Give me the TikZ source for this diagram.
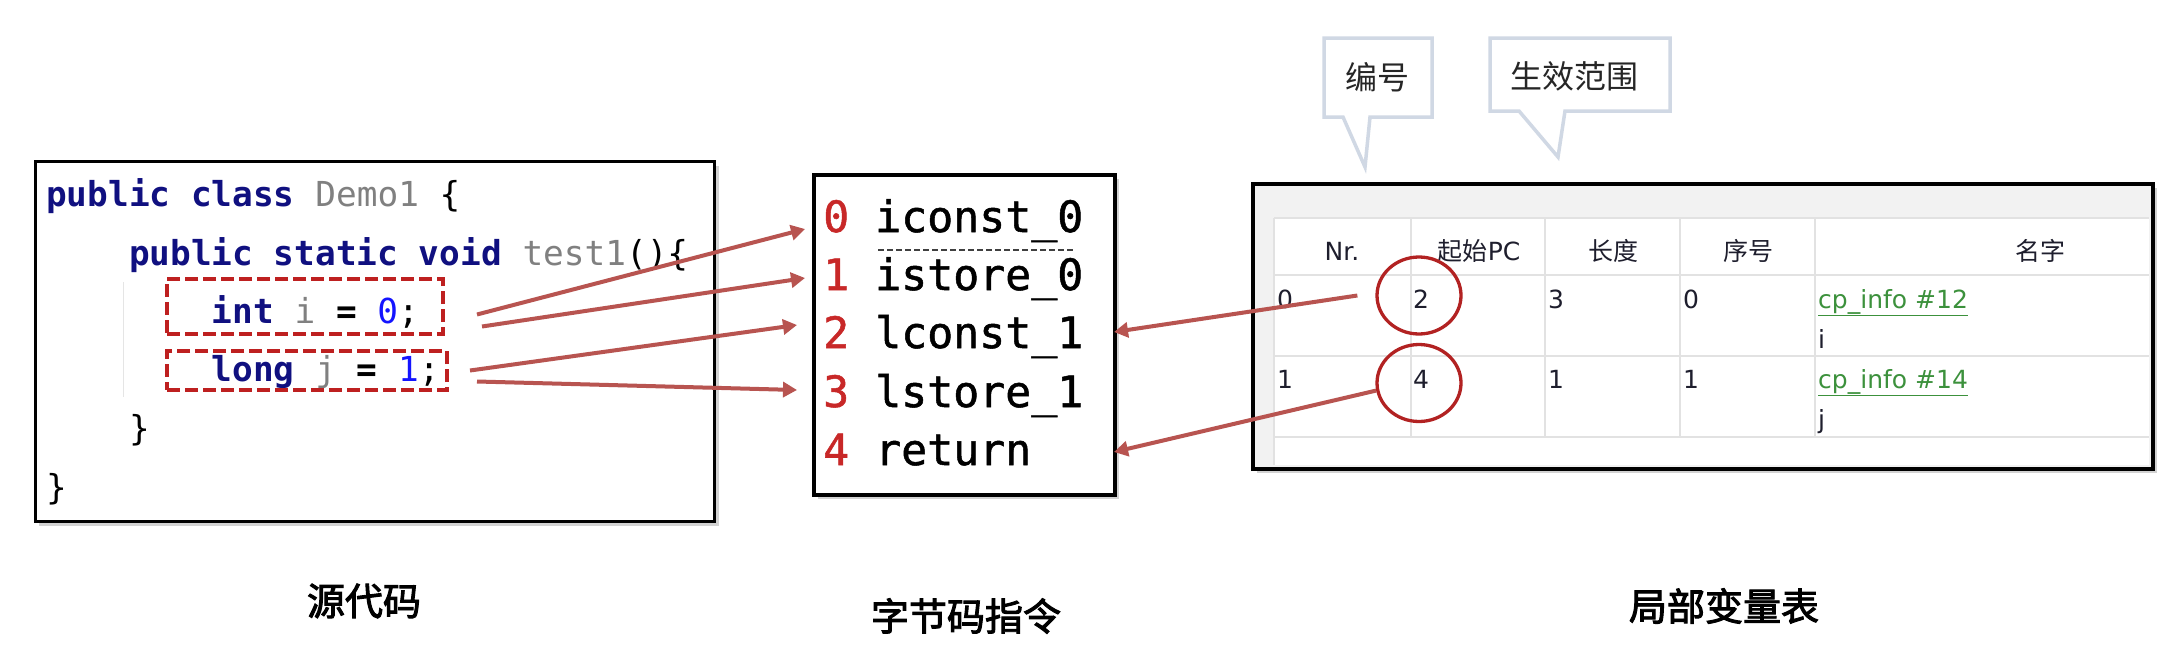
\documentclass[tikz,border=0pt]{standalone}
\usepackage{fontspec}
\setmainfont{DejaVu Sans}
\newfontfamily\codefont{DejaVu Sans Mono}
\newfontfamily\opfont[FakeBold=1.2]{DejaVu Sans Mono}
\newfontfamily\cjk{Noto Sans CJK SC}
\newfontfamily\capfont[FakeBold=2.5]{Noto Sans CJK SC}
\usetikzlibrary{arrows.meta,shapes.geometric,shadows,calc}

\definecolor{kwblue}{RGB}{16,16,128}
\definecolor{idgray}{RGB}{128,128,128}
\definecolor{numblue}{RGB}{20,20,255}
\definecolor{boxred}{RGB}{190,32,32}
\definecolor{linkred}{RGB}{184,84,80}
\definecolor{opred}{RGB}{200,40,40}
\definecolor{ringred}{RGB}{178,34,34}
\definecolor{gridgray}{RGB}{226,226,226}
\definecolor{bandgray}{RGB}{242,242,242}
\definecolor{tipblue}{RGB}{208,216,228}
\definecolor{linkgreen}{RGB}{60,145,60}
\definecolor{celltext}{RGB}{30,30,45}

\tikzset{
  panel/.style={draw=black, fill=white, line width=3pt, inner sep=0pt, anchor=north west,
    drop shadow={shadow xshift=4pt, shadow yshift=-4pt, opacity=.35}},
  codeline/.style={anchor=base west, inner sep=0pt, font=\codefont\fontsize{34.4}{40}\selectfont},
  opline/.style={anchor=base west, inner sep=0pt, font=\opfont\fontsize{43.2}{50}\selectfont},
  hilite/.style={draw=boxred, line width=4pt, dash pattern=on 13pt off 5pt, inner sep=0pt, anchor=north west},
  link/.style={draw=linkred, line width=4pt, -{Triangle[length=14pt,width=15pt]}},
  ring/.style={ellipse, draw=ringred, line width=3.3pt, minimum width=84pt, minimum height=77pt, inner sep=0pt},
  grid/.style={draw=gridgray, line width=2pt},
  head/.style={anchor=base, inner sep=0pt, text=celltext, font=\fontsize{25}{30}\selectfont},
  cell/.style={anchor=base west, inner sep=0pt, text=celltext, font=\fontsize{25}{30}\selectfont},
  tipbox/.style={draw=tipblue, fill=white, line width=3.5pt},
  tiptext/.style={inner sep=0pt, text=black!85, font=\cjk\fontsize{32}{36}\selectfont},
  caption/.style={inner sep=0pt, font=\capfont\fontsize{38}{44}\selectfont}
}

\begin{document}
\begin{tikzpicture}[x=1pt, y=-1pt]
  \fill[white] (0,0) rectangle (2182,672);
  \useasboundingbox (0,0) rectangle (2182,672);

  % source code
  \node[panel, minimum width=679.5pt, minimum height=360pt] (src) at (33.5,160) {};
  \draw[gray!20, line width=1pt] (123,282) -- (123,397);
  \node[codeline] (c1) at (46,206) {\textcolor{kwblue}{\bfseries public class} \textcolor{idgray}{Demo1} \{};
  \node[codeline] (c2) at (128.8,265) {\textcolor{kwblue}{\bfseries public static void} \textcolor{idgray}{test1}()\{};
  \node[codeline] (c3) at (211.6,323) {\textcolor{kwblue}{\bfseries int} \textcolor{idgray}{i} {\bfseries =} \textcolor{numblue}{0};};
  \node[codeline] (c4) at (211.6,381) {\textcolor{kwblue}{\bfseries long} \textcolor{idgray}{j} {\bfseries =} \textcolor{numblue}{1};};
  \node[codeline] (c5) at (128.8,440) {\}};
  \node[codeline] (c6) at (46,499) {\}};
  \node[hilite, minimum width=276pt, minimum height=55pt] (v1) at (165,277) {};
  \node[hilite, minimum width=280pt, minimum height=39pt] (v2) at (165,349) {};

  % byte code
  \node[panel, line width=4pt, minimum width=301pt, minimum height=320pt] (bc) at (812,173) {};
  \node[opline] (op0) at (823,232) {\textcolor{opred}{0} iconst\_0};
  \node[opline] (op1) at (823,290) {\textcolor{opred}{1} istore\_0};
  \node[opline] (op2) at (823,348) {\textcolor{opred}{2} lconst\_1};
  \node[opline] (op3) at (823,407) {\textcolor{opred}{3} lstore\_1};
  \node[opline] (op4) at (823,465) {\textcolor{opred}{4} return};
  \draw[black!75, line width=1.5pt, dash pattern=on 6pt off 3pt] (878,250) -- (1075,250);

  % local variable table
  \node[panel, line width=4pt, fill=bandgray, minimum width=900pt, minimum height=285pt] (tbl) at (1251,182) {};
  \fill[white] (1274,218) rectangle (2149,465);
  \foreach \y in {218,275,356,437}
    \draw[grid] (1274,\y) -- (2149,\y);
  \foreach \x in {1274,1411,1545,1680,1815}
    \draw[grid] (\x,218) -- (\x,437);
  \draw[grid] (1274,437) -- (1274,465);

  \node[head] (h1) at (1342,260) {Nr.};
  \node[head] (h2) at (1479,260) {{\cjk 起始}PC};
  \node[head] (h3) at (1613,260) {\cjk 长度};
  \node[head] (h4) at (1748,260) {\cjk 序号};
  \node[head] (h5) at (2040,260) {\cjk 名字};

  \node[cell] (r1a) at (1277,308) {0};
  \node[cell] (r1b) at (1413,308) {2};
  \node[cell] (r1c) at (1548,308) {3};
  \node[cell] (r1d) at (1683,308) {0};
  \node[cell] (r1e) at (1818,308) {\textcolor{linkgreen}{\underline{cp\_info \#12}}};
  \node[cell] (r1f) at (1818,348) {i};
  \node[cell] (r2a) at (1277,388) {1};
  \node[cell] (r2b) at (1413,388) {4};
  \node[cell] (r2c) at (1548,388) {1};
  \node[cell] (r2d) at (1683,388) {1};
  \node[cell] (r2e) at (1818,388) {\textcolor{linkgreen}{\underline{cp\_info \#14}}};
  \node[cell] (r2f) at (1818,428) {j};

  \node[ring] (pc2) at (1419,295.5) {};
  \node[ring] (pc4) at (1419,383) {};

  % callouts
  \draw[tipbox] (1324,38) -- (1432,38) -- (1432,117) -- (1370,117) -- (1365,167)
    -- (1343,117) -- (1324,117) -- cycle;
  \node[tiptext] (nr) at (1377,77) {编号};
  \draw[tipbox] (1490,38) -- (1670,38) -- (1670,111) -- (1565,111) -- (1558,157)
    -- (1519,111) -- (1490,111) -- cycle;
  \node[tiptext] (range) at (1574,76) {生效范围};

  % arrows
  \draw[link] ($(v1.east)+(32,8)$) -- ($(bc.north west)+(-7,56)$);
  \draw[link] ($(v1.east)+(37,20)$) -- ($(bc.north west)+(-7,105)$);
  \draw[link] ($(v2.east)+(21,0)$) -- ($(bc.north west)+(-15,152)$);
  \draw[link] ($(v2.east)+(28,11)$) -- ($(bc.north west)+(-15,217)$);
  \draw[link] ([xshift=-18pt]pc2.west) -- ($(bc.north east)+(-3,159)$);
  \draw[link] (pc4.190) -- ($(bc.north east)+(-3,279)$);

  % captions
  \node[caption] (capsrc) at (364,601) {源代码};
  \node[caption] (capbc) at (966,616) {字节码指令};
  \node[caption] (caplv) at (1724,606) {局部变量表};
\end{tikzpicture}
\end{document}
